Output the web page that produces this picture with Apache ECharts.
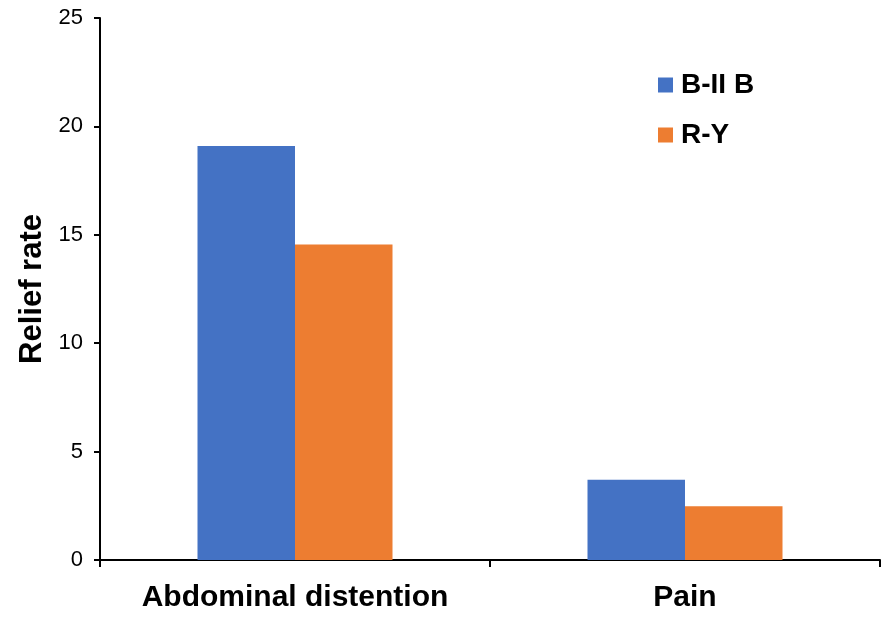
<!DOCTYPE html>
<html>
<head>
<meta charset="utf-8">
<script src="https://cdn.jsdelivr.net/npm/echarts@6/dist/echarts.min.js"></script>
<style>html,body{margin:0;padding:0;background:#fff}#c{width:886px;height:623px}</style>
</head>
<body>
<div id="c"></div>
<script>
const categories = ['Abdominal distention', 'Pain'];
const seriesNames = ['B-II B', 'R-Y'];
const bIIB = [19.1, 3.7];
const rY = [14.55, 2.48];
const colors = ['#4472C4', '#ED7D31'];

const chart = echarts.init(document.getElementById('c'), null, {renderer: 'canvas'});
const F = 'Liberation Sans, Arial, sans-serif';
chart.setOption({
  animation: false,
  backgroundColor: '#fff',
  legend: {
    orient: 'vertical',
    left: 653, top: 66,
    itemWidth: 15, itemHeight: 15, itemGap: 22,
    icon: 'rect',
    textStyle: {fontFamily: F, fontSize: 28, fontWeight: 'bold', color: '#000', padding: [0,0,0,3]},
    data: seriesNames
  },
  grid: {left: 100, right: 6, top: 18, bottom: 63, containLabel: false, outerBoundsMode: 'none'},
  xAxis: {
    type: 'category',
    data: categories,
    axisLine: {lineStyle: {color: '#000', width: 2}},
    axisTick: {show: true, interval: 0, alignWithLabel: false, length: 7, lineStyle: {color: '#000', width: 2}},
    axisLabel: {interval: 0, fontFamily: F, fontSize: 30, fontWeight: 'bold', color: '#000', margin: 23}
  },
  yAxis: {
    type: 'value',
    min: 0, max: 25, interval: 5,
    name: 'Relief rate',
    nameLocation: 'middle',
    nameGap: 51,
    nameTextStyle: {fontFamily: F, fontSize: 31, fontWeight: 'bold', color: '#000'},
    splitLine: {show: false},
    axisLine: {show: true, lineStyle: {color: '#000', width: 2}},
    axisTick: {show: true, length: 6, lineStyle: {color: '#000', width: 2}},
    axisLabel: {fontFamily: F, fontSize: 22, color: '#000', margin: 17}
  },
  series: [
    {name: seriesNames[0], type: 'bar', data: bIIB, itemStyle: {color: colors[0]}, barGap: '0%', barCategoryGap: '50%'},
    {name: seriesNames[1], type: 'bar', data: rY, itemStyle: {color: colors[1]}, barGap: '0%', barCategoryGap: '50%'}
  ]
});
</script>
</body>
</html>
